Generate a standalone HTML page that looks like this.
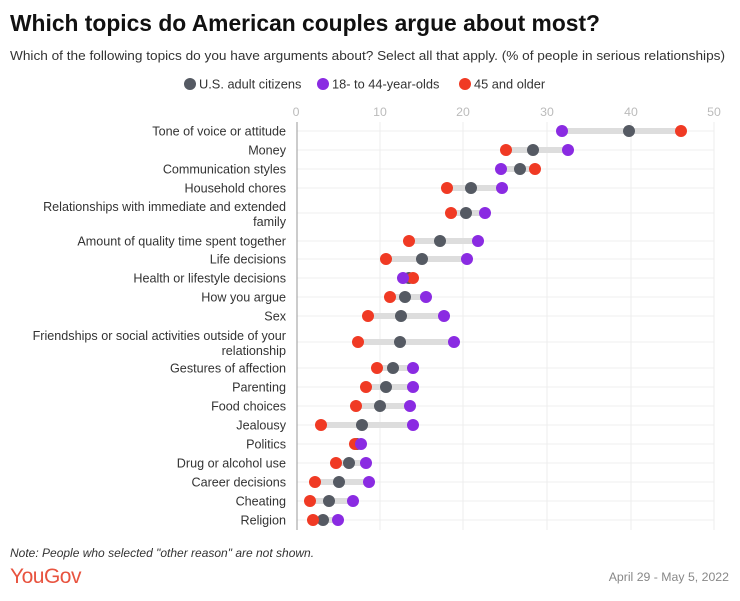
<!DOCTYPE html>
<html><head><meta charset="utf-8"><style>
body{margin:0;background:#fff;width:740px;height:596px;overflow:hidden;font-family:"Liberation Sans",sans-serif}
</style></head><body>
<svg width="740" height="596" xmlns="http://www.w3.org/2000/svg" font-family="Liberation Sans, sans-serif">
<text x="10" y="31" font-size="23" font-weight="bold" fill="#111" textLength="590" lengthAdjust="spacingAndGlyphs">Which topics do American couples argue about most?</text>
<text x="10" y="60" font-size="13" fill="#333" textLength="715" lengthAdjust="spacingAndGlyphs">Which of the following topics do you have arguments about? Select all that apply. (% of people in serious relationships)</text>
<circle cx="190" cy="84" r="6" fill="#555a63"/><text x="199" y="88.5" font-size="12.8" fill="#333">U.S. adult citizens</text>
<circle cx="323" cy="84" r="6" fill="#8a2be2"/><text x="332" y="88.5" font-size="12.8" fill="#333">18- to 44-year-olds</text>
<circle cx="465" cy="84" r="6" fill="#f03a24"/><text x="474" y="88.5" font-size="12.8" fill="#333">45 and older</text>
<g font-size="12.3" fill="#bbb" text-anchor="middle">
<text x="296" y="116">0</text><text x="380" y="116">10</text><text x="463" y="116">20</text><text x="547" y="116">30</text><text x="631" y="116">40</text><text x="714" y="116">50</text></g>
<g stroke="#ececec" stroke-width="1">
<line x1="380" y1="122" x2="380" y2="530"/><line x1="463" y1="122" x2="463" y2="530"/><line x1="547" y1="122" x2="547" y2="530"/><line x1="631" y1="122" x2="631" y2="530"/><line x1="714" y1="122" x2="714" y2="530"/>
</g>
<g stroke="#efefef" stroke-width="1" id="h"></g>
<line x1="297" y1="122" x2="297" y2="530" stroke="#999" stroke-width="1"/>
<g id="rows" font-size="12.6" fill="#333" text-anchor="end"></g>
<text x="10" y="557" font-size="12" font-style="italic" fill="#333">Note: People who selected "other reason" are not shown.</text>
<text x="10" y="583" font-size="21" fill="#e8533f" letter-spacing="-0.5">YouGov</text>
<text x="729" y="581" font-size="12.3" fill="#888" text-anchor="end">April 29 - May 5, 2022</text>
</svg>
<script>
var d=[
[["Tone of voice or attitude"],131,629,562,681],
[["Money"],150,533,568,506],
[["Communication styles"],169,520,501,535],
[["Household chores"],188,471,502,447],
[["Relationships with immediate and extended","family"],213,466,485,451],
[["Amount of quality time spent together"],241,440,478,409],
[["Life decisions"],259,422,467,386],
[["Health or lifestyle decisions"],278,409,403,413],
[["How you argue"],297,405,426,390],
[["Sex"],316,401,444,368],
[["Friendships or social activities outside of your","relationship"],342,400,454,358],
[["Gestures of affection"],368,393,413,377],
[["Parenting"],387,386,413,366],
[["Food choices"],406,380,410,356],
[["Jealousy"],425,362,413,321],
[["Politics"],444,357,361,355],
[["Drug or alcohol use"],463,349,366,336],
[["Career decisions"],482,339,369,315],
[["Cheating"],501,329,353,310],
[["Religion"],520,323,338,313]];
var ns="http://www.w3.org/2000/svg",g=document.getElementById("rows"),h=document.getElementById("h");
function el(p,t,a){var e=document.createElementNS(ns,t);for(var k in a)e.setAttribute(k,a[k]);p.appendChild(e);return e;}
d.forEach(function(r){var y=r[1];
el(h,"line",{x1:297,x2:714,y1:y,y2:y});
if(r[0].length==1){var t=el(g,"text",{x:286,y:y+4.5});t.textContent=r[0][0];}
else{var t=el(g,"text",{x:286,y:y-2});t.textContent=r[0][0];var t2=el(g,"text",{x:286,y:y+13});t2.textContent=r[0][1];}
var mn=Math.min(r[2],r[3],r[4]),mx=Math.max(r[2],r[3],r[4]);
el(g,"line",{x1:mn,x2:mx,y1:y,y2:y,stroke:"#ddd","stroke-width":6});
el(g,"circle",{cx:r[2],cy:y,r:6,fill:"#555a63"});
el(g,"circle",{cx:r[4],cy:y,r:6,fill:"#f03a24"});
el(g,"circle",{cx:r[3],cy:y,r:6,fill:"#8a2be2"});
});
</script>
</body></html>
